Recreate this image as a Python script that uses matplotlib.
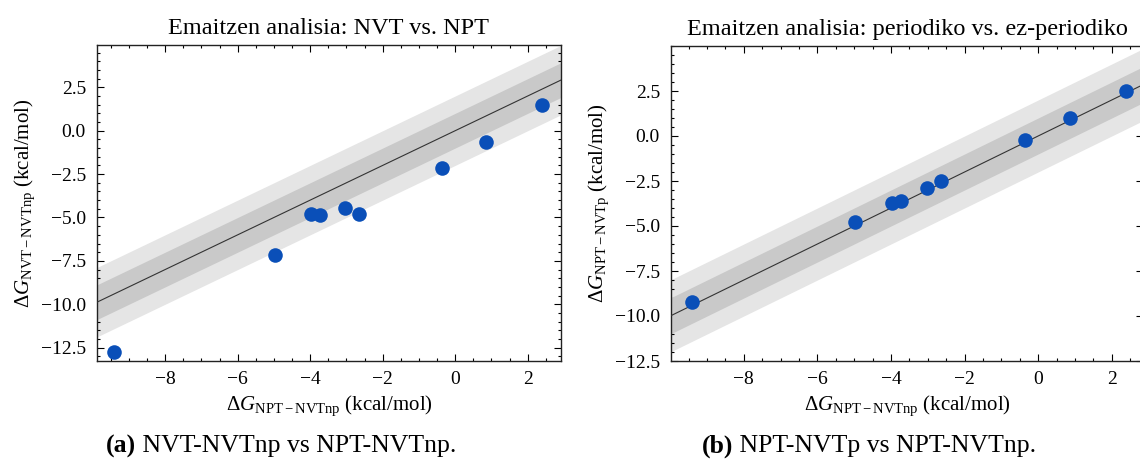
import numpy as np
import matplotlib
matplotlib.use("Agg")
import matplotlib.pyplot as plt
from matplotlib.ticker import MultipleLocator

# datuak (kcal/mol)
dg_npt_nvtnp = [-9.40, -4.97, -3.97, -3.72, -3.03, -2.64, -0.37, 0.86, 2.40]
dg_nvt_nvtnp = [-12.73, -7.18, -4.78, -4.86, -4.47, -4.82, -2.17, -0.63, 1.46]
dg_npt_nvtp = [-9.24, -4.79, -3.74, -3.59, -2.91, -2.52, -0.22, 1.00, 2.50]

titles = ["Emaitzen analisia: NVT vs. NPT",
          "Emaitzen analisia: periodiko vs. ez-periodiko"]
ylabels = [r"$\Delta G_{\mathrm{NVT-NVTnp}}$ (kcal/mol)",
           r"$\Delta G_{\mathrm{NPT-NVTp}}$ (kcal/mol)"]
xlabel = r"$\Delta G_{\mathrm{NPT-NVTnp}}$ (kcal/mol)"
captions = [("(a)", " NVT-NVTnp vs NPT-NVTnp."),
            ("(b)", " NPT-NVTp vs NPT-NVTnp.")]

plt.rcParams["font.family"] = ["Liberation Serif", "DejaVu Serif"]
plt.rcParams["mathtext.fontset"] = "custom"
plt.rcParams["mathtext.rm"] = "Liberation Serif"
plt.rcParams["mathtext.it"] = "Liberation Serif:italic"
plt.rcParams["axes.unicode_minus"] = True

W, H = 1140, 463
fig = plt.figure(figsize=(W / 100, H / 100), dpi=100)

def px_axes(x0, y0, x1, y1):
    return fig.add_axes([x0 / W, 1 - y1 / H, (x1 - x0) / W, (y1 - y0) / H])

ax1 = px_axes(97, 45, 561, 361)
ax2 = px_axes(671, 46, 1143, 361)

azul = "#0a4fb8"
for ax, ydata, title, ylab, xlim, ylim in [
        (ax1, dg_nvt_nvtnp, titles[0], ylabels[0], (-9.88, 2.92), (-13.27, 4.94)),
        (ax2, dg_npt_nvtp, titles[1], ylabels[1], (-9.98, 2.85), (-12.45, 5.0))]:
    xx = np.array(xlim)
    ax.fill_between(xx, xx - 2, xx + 2, color="#e5e5e5", lw=0, zorder=1)
    ax.fill_between(xx, xx - 1, xx + 1, color="#c9c9c9", lw=0, zorder=2)
    ax.plot(xx, xx, color="#333333", lw=0.8, zorder=3)
    ax.scatter(dg_npt_nvtnp, ydata, s=110, color=azul, zorder=4, lw=0)
    ax.set_xlim(xlim)
    ax.set_ylim(ylim)
    ax.set_title(title, fontsize=17.5, pad=8)
    ax.set_xlabel(xlabel, fontsize=15, labelpad=4)
    ax.set_ylabel(ylab, fontsize=15, labelpad=3)
    ax.xaxis.set_major_locator(MultipleLocator(2))
    ax.xaxis.set_minor_locator(MultipleLocator(0.5))
    ax.yaxis.set_major_locator(MultipleLocator(2.5))
    ax.yaxis.set_minor_locator(MultipleLocator(0.5))
    ax.tick_params(which="both", direction="in", top=True, right=True,
                   labelsize=14, width=0.8)
    ax.tick_params(which="major", length=5)
    ax.tick_params(which="minor", length=2.5)
    ax.tick_params(axis="x", which="major", pad=7)
    ax.tick_params(axis="y", which="major", pad=8)
    for s in ax.spines.values():
        s.set_linewidth(1.0)
        s.set_color("#222222")
    ax.set_yticks(np.arange(-12.5, 3.0, 2.5))

fig.canvas.draw()
r = fig.canvas.get_renderer()
for (bold, rest), cx in zip(captions, [281, 869]):
    t1 = fig.text(0, 1 - 446 / H, bold, fontsize=18.5, fontweight="bold", va="center")
    t2 = fig.text(0, 1 - 446 / H, rest, fontsize=18.5, va="center")
    w1 = t1.get_window_extent(r).width
    w2 = t2.get_window_extent(r).width
    x0 = cx - (w1 + w2) / 2
    t1.set_x(x0 / W)
    t2.set_x((x0 + w1) / W)

fig.savefig("out.png", dpi=100)
